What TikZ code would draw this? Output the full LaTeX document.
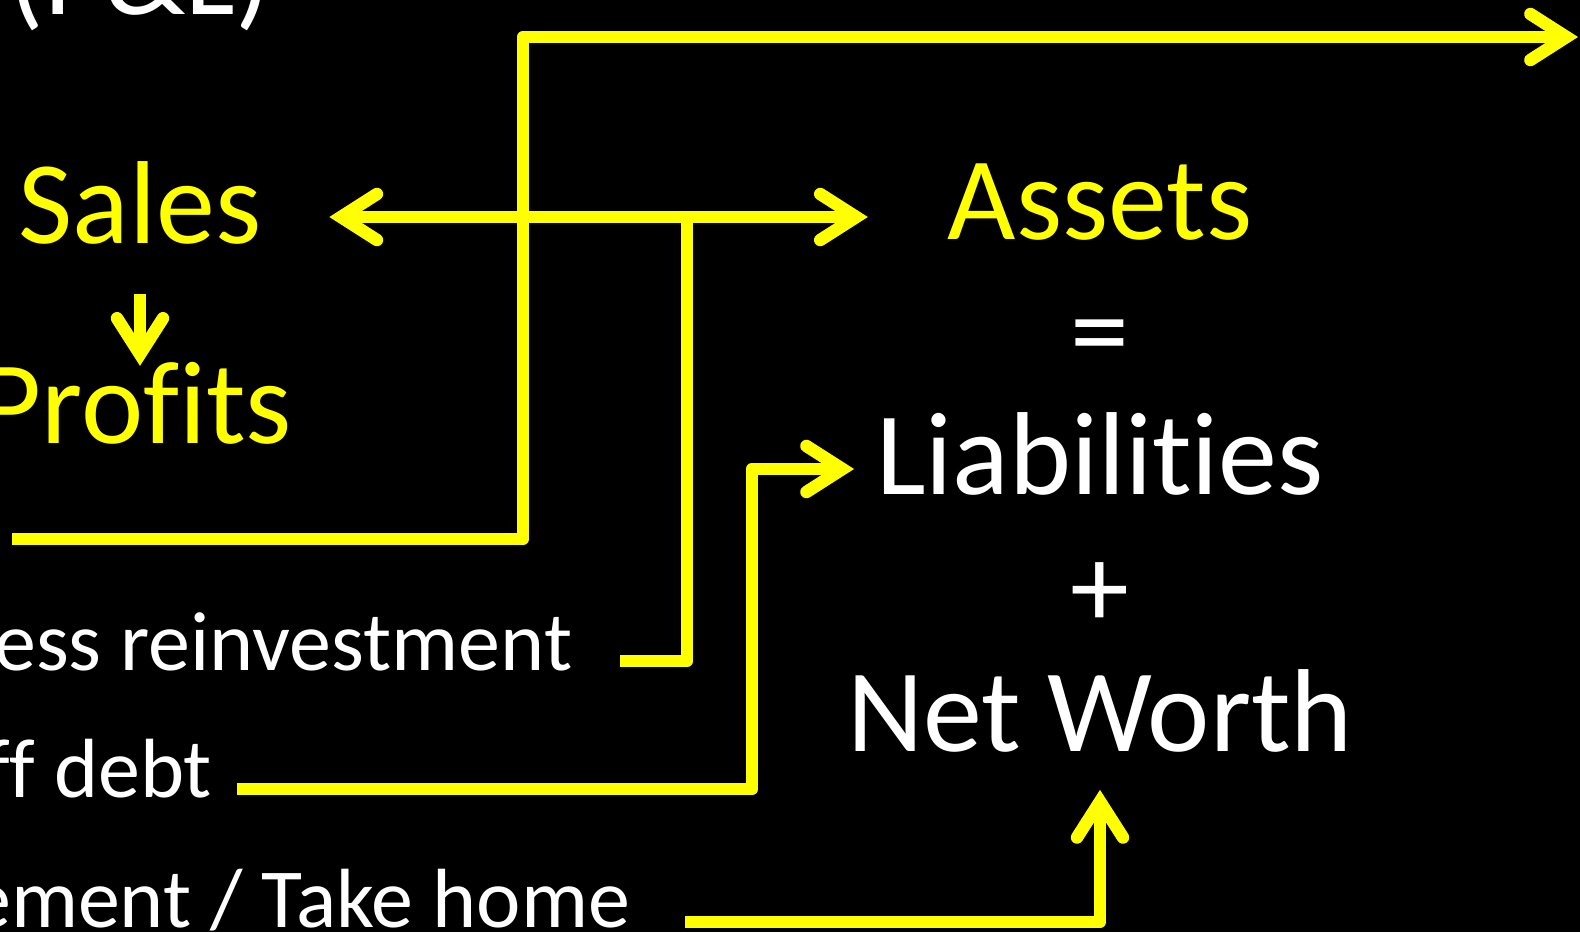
\documentclass[tikz,border=0pt]{standalone}
\usepackage{fontspec}
\setmainfont{Carlito}[Ligatures=NoCommon]
\usepackage{tikz}
\usetikzlibrary{arrows.meta, calc}
\definecolor{slideyellow}{RGB}{255,255,0}
\definecolor{slidebg}{RGB}{0,0,0}

\begin{document}
\begin{tikzpicture}[
  x=0.5pt, y=-0.5pt,
  txt/.style      = {inner sep=0pt, outer sep=0pt},
  bigtxt/.style   = {txt, font=\fontsize{59}{70}\selectfont, text=white},
  smalltxt/.style = {txt, font=\fontsize{42}{50}\selectfont, text=white},
  pltxt/.style    = {bigtxt, text=slideyellow},
  arr/.style = {-{Straight Barb[length=18pt, width=23pt, line cap=round, line join=miter]},
                line width=6.25pt, color=slideyellow, line join=round},
]

%% --- Slide frame ---
\useasboundingbox (0,0) rectangle (1580,932);
\fill[slidebg] (0,0) rectangle (1580,932);
\clip (0,0) rectangle (1580,932);

%% --- P&L side ---
\node[bigtxt, anchor=base]     (pl)    at (140,14)  {(P\&L)};
\node[pltxt, anchor=base]      (sales) at (140,243) {Sales};
\node[pltxt, anchor=base east] (prof)  at (292,443) {Profits};

%% --- Uses of profit ---
\node[smalltxt, anchor=base east] (reinv) at (572,670) {ess reinvestment};
\node[smalltxt, anchor=base east] (debt)  at (212,797) {ff debt};
\node[smalltxt, anchor=base east] (home)  at (630,927) {ement / Take home};

%% --- Balance sheet ---
\node[pltxt, anchor=base]  (assets) at (1100,239) {Assets};
\node[bigtxt]              (eq)     at (1100,345) {=};
\node[bigtxt, anchor=base] (liab)   at (1100,494) {Liabilities};
\node[bigtxt]              (plus)   at (1100,595) {+};
\node[bigtxt, anchor=base] (nw)     at (1100,751) {Net Worth};

%% --- Connector corners ---
\coordinate (pstart) at (12,539);
\coordinate (ptop)   at (523,37);
\coordinate (pend)   at (1578,37);
\coordinate (rstart) at (620,661);
\coordinate (fork)   at (687,217);
\coordinate (dstart) at (237,789);
\coordinate (dup)    at (752,469);
\coordinate (hstart) at (685,922);

%% --- Arrows ---
\draw[arr] (pstart) -| (ptop) -- (pend);
\draw[arr] ([yshift=-25pt]sales.south) -- ++(0,72);
\draw[arr] (rstart) -| (fork) -- ([xshift=34pt]sales.east |- fork);
\draw[arr] (fork) -- ([xshift=-40pt]assets.west |- fork);
\draw[arr] (dstart) -| (dup) -- ([xshift=-11pt]liab.west |- dup);
\draw[arr] (hstart) -| ([yshift=-19pt]nw.south);

\end{tikzpicture}
\end{document}
